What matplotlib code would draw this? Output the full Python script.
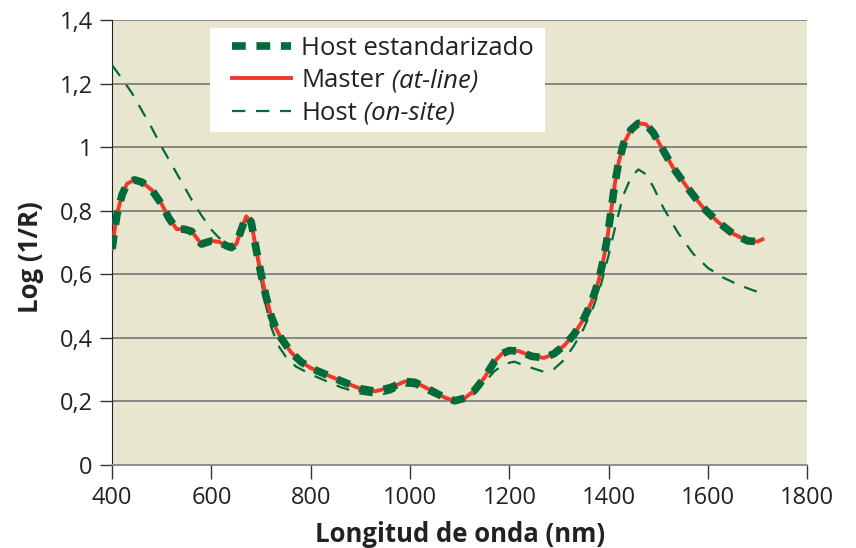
import matplotlib
matplotlib.use("Agg")
import matplotlib.pyplot as plt
from matplotlib.patches import Rectangle
from matplotlib.ticker import FuncFormatter

plt.rcParams['font.family'] = ['Open Sans', 'DejaVu Sans']

# longitudes de onda (nm) y espectros
nm_master = [400, 405, 410, 420, 430, 445, 460, 480, 500, 515, 530, 545, 560, 570,
             580, 590, 600, 615, 630, 640, 650, 660, 670, 680, 690, 700, 710, 720,
             730, 740, 760, 780, 800, 830, 860, 900, 930, 960, 990, 1010, 1030,
             1050, 1070, 1090, 1110, 1130, 1150, 1170, 1185, 1200, 1220, 1245,
             1270, 1290, 1310, 1330, 1350, 1365, 1380, 1390, 1398, 1405, 1412,
             1420, 1430, 1445, 1460, 1475, 1490, 1510, 1530, 1560, 1590, 1620,
             1650, 1680, 1700, 1710]
master = [0.68, 0.74, 0.79, 0.85, 0.885, 0.897, 0.89, 0.865, 0.82, 0.775, 0.742,
          0.742, 0.735, 0.715, 0.695, 0.70, 0.705, 0.702, 0.69, 0.684, 0.695, 0.74,
          0.782, 0.765, 0.68, 0.60, 0.53, 0.47, 0.43, 0.40, 0.355, 0.325, 0.305,
          0.285, 0.265, 0.24, 0.232, 0.243, 0.263, 0.26, 0.245, 0.228, 0.212, 0.202,
          0.21, 0.235, 0.275, 0.325, 0.35, 0.36, 0.358, 0.342, 0.337, 0.35, 0.375,
          0.41, 0.46, 0.51, 0.58, 0.65, 0.72, 0.80, 0.88, 0.95, 1.01, 1.055,
          1.075, 1.072, 1.045, 0.99, 0.935, 0.87, 0.81, 0.765, 0.728, 0.705,
          0.703, 0.71]

nm_onsite = [400, 420, 440, 460, 480, 500, 520, 540, 560, 580, 600, 615, 630, 640,
             650, 660, 670, 680, 690, 700, 710, 720, 735, 750, 770, 800, 830, 860,
             900, 930, 960, 990, 1010, 1030, 1050, 1070, 1090, 1110, 1130, 1150,
             1170, 1190, 1210, 1240, 1270, 1290, 1310, 1330, 1350, 1370, 1385, 1400,
             1415, 1430, 1445, 1460, 1475, 1490, 1510, 1540, 1570, 1600, 1630,
             1660, 1690, 1710]
onsite = [1.258, 1.215, 1.17, 1.115, 1.06, 1.0, 0.945, 0.89, 0.835, 0.785, 0.74,
          0.715, 0.70, 0.688, 0.695, 0.735, 0.775, 0.76, 0.67, 0.58, 0.50, 0.435,
          0.375, 0.34, 0.31, 0.285, 0.265, 0.245, 0.225, 0.218, 0.228, 0.25, 0.248,
          0.232, 0.218, 0.207, 0.2, 0.205, 0.225, 0.26, 0.295, 0.318, 0.325, 0.308,
          0.293, 0.302, 0.33, 0.375, 0.43, 0.50, 0.57, 0.66, 0.76, 0.85, 0.905,
          0.93, 0.915, 0.875, 0.81, 0.73, 0.665, 0.62, 0.59, 0.568, 0.55, 0.54]

fig = plt.figure(figsize=(8.56, 5.48), dpi=100)
ax = fig.add_axes([0.131, 0.1515, 0.812, 0.812])
ax.set_facecolor('#e9e6cf')

for yv in [0.2, 0.4, 0.6, 0.8, 1.0, 1.2, 1.4]:
    ax.axhline(yv, color='#6e6e6e', lw=1.1, zorder=1)

ax.plot(nm_onsite, onsite, color='#006b3a', lw=1.6, ls=(0, (6, 4.8)), zorder=3,
        label='Host')
ax.plot(nm_master, master, color='#ee3a2c', lw=2.8, zorder=4, label='Master')
ax.plot(nm_master, master, color='#006b3a', lw=5.5, ls=(0, (1.8, 1.4)), zorder=5,
        label='Host estandarizado')

ax.set_xlim(400, 1800)
ax.set_ylim(0, 1.4)
ax.set_xticks(range(400, 1801, 200))
ax.set_yticks([0, 0.2, 0.4, 0.6, 0.8, 1.0, 1.2, 1.4])
ax.yaxis.set_major_formatter(FuncFormatter(
    lambda v, p: ('%g' % round(v, 1)).replace('.', ',')))
ax.tick_params(axis='both', labelsize=17, color='#333333', labelcolor='#222222')
ax.tick_params(axis='x', length=10, width=1, direction='out', pad=5)
ax.tick_params(axis='y', length=9, width=1, direction='out', pad=5)

for s in ['top', 'right']:
    ax.spines[s].set_visible(False)
ax.spines['left'].set_color('#222222')
ax.spines['bottom'].set_color('#888888')
ax.spines['bottom'].set_linewidth(1.3)

ax.set_xlabel('Longitud de onda (nm)', fontsize=18.5, fontweight='bold',
              color='#222222', labelpad=8)
ax.set_ylabel('Log (1/R)', fontsize=18.5, fontweight='bold', color='#222222')
ax.yaxis.set_label_coords(-0.098, 0.467)

# caja blanca de la leyenda
ax.add_patch(Rectangle((0.141, 0.748), 0.482, 0.234, transform=ax.transAxes,
                       facecolor='white', edgecolor='none', zorder=6))

h, lab = ax.get_legend_handles_labels()
order = [2, 1, 0]
leg = ax.legend([h[i] for i in order], [lab[i] for i in order],
                loc='upper left', bbox_to_anchor=(0.172, 0.965),
                fontsize=18.5, frameon=False, handlelength=2.3,
                handletextpad=0.4, borderpad=0.0, borderaxespad=0.0,
                labelspacing=0.3)
leg.set_zorder(7)
texts = leg.get_texts()
for t in texts:
    t.set_color('#222222')
for t, extra in [(texts[1], ' (at-line)'), (texts[2], ' (on-site)')]:
    ax.annotate(extra, xy=(1, 0), xycoords=t, va='bottom', ha='left',
                fontsize=18.5, fontstyle='italic', color='#222222', zorder=8)

fig.savefig('out.png', dpi=100)
